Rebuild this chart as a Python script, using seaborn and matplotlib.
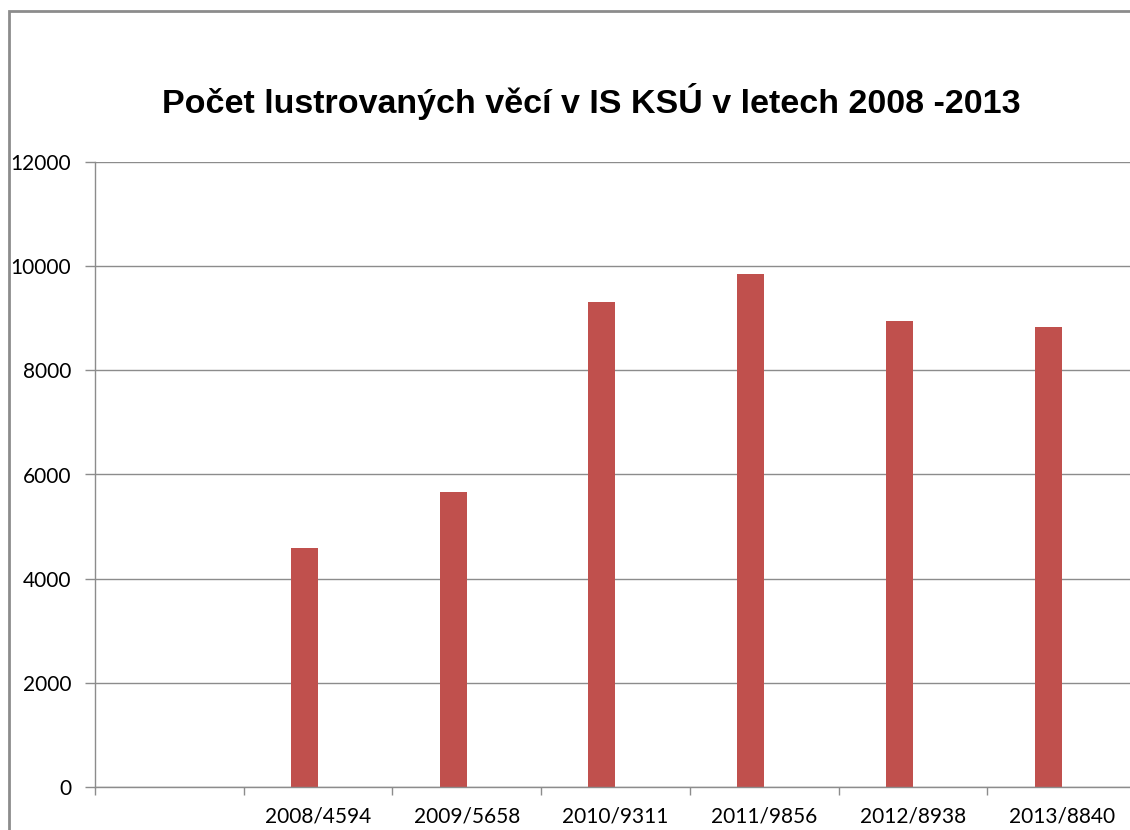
import matplotlib
matplotlib.use("Agg")
import matplotlib.pyplot as plt
import seaborn as sns
import pandas as pd
import numpy as np
from matplotlib.patches import Rectangle

categories = ["", "2008/4594", "2009/5658", "2010/9311", "2011/9856", "2012/8938", "2013/8840"]
values = [0, 4594, 5658, 9311, 9856, 8938, 8840]
empty_series = [0, 0, 0, 0, 0, 0, 0]
title = "Počet lustrovaných věcí v IS KSÚ v letech 2008 -2013"
yticks = [0, 2000, 4000, 6000, 8000, 10000, 12000]

sns.set_theme(style="white")
plt.rcParams["font.family"] = ["Lato", "DejaVu Sans"]

df = pd.DataFrame({
    "cat": categories * 2,
    "val": values + empty_series,
    "series": ["A"] * len(categories) + ["B"] * len(categories),
})

fig = plt.figure(figsize=(11.3, 8.3), dpi=100)
fig.patch.set_facecolor("white")
ax = fig.add_axes([95 / 1130, 43 / 830, 1041 / 1130, 625 / 830])

sns.barplot(data=df, x="cat", y="val", hue="series", order=categories,
            palette={"A": "#C0504D", "B": "#4F81BD"}, width=0.364,
            errorbar=None, legend=False, linewidth=0, ax=ax, saturation=1)

ax.set_xlim(-0.5, len(categories) - 0.5)
ax.set_ylim(0, 12000)
ax.set_yticks(yticks)
ax.set_yticklabels([str(t) for t in yticks], fontsize=15, color="#000000")
ax.set_xticks(range(len(categories)))
ax.set_xticklabels(categories, fontsize=15, color="#000000")
ax.set_xticks(np.arange(-0.5, len(categories)), minor=True)
ax.tick_params(axis="x", which="major", length=0, pad=14)
ax.tick_params(axis="x", which="minor", length=6, width=1, color="#8c8c8c", direction="out", bottom=True)
ax.tick_params(axis="y", which="major", length=7, width=1, color="#8c8c8c", direction="out", left=True, pad=10)
ax.set_xlabel("")
ax.set_ylabel("")

ax.grid(axis="y", color="#8c8c8c", linewidth=1)
ax.set_axisbelow(True)
for side in ["top", "right"]:
    ax.spines[side].set_visible(False)
for side in ["left", "bottom"]:
    ax.spines[side].set_color("#8c8c8c")
    ax.spines[side].set_linewidth(1)

fig.text(591 / 1130, 1 - 101 / 830, title, ha="center", va="center", color="#000000",
         fontsize=24.5, fontweight="bold", family=["Liberation Sans", "DejaVu Sans"])

fig.patches.append(Rectangle((9 / 1130, -0.1), 1.2, 1 - 11 / 830 + 0.1,
                             transform=fig.transFigure, fill=False,
                             edgecolor="#8c8c8c", linewidth=2, figure=fig))

fig.savefig("out.png", dpi=100, facecolor="white")
